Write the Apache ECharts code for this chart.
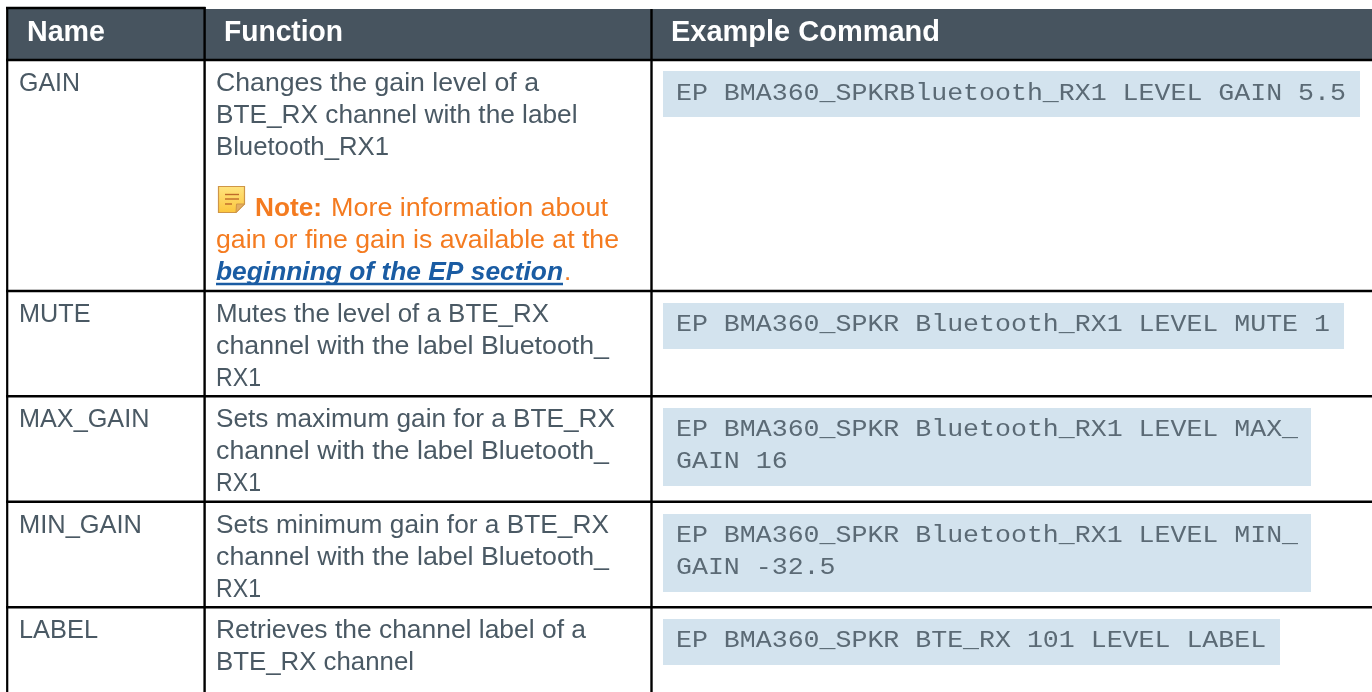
<!DOCTYPE html>
<html lang="en">

<head>
  <meta charset="UTF-8">
  <title>EP LEVEL commands</title>
  <script src="https://cdnjs.cloudflare.com/ajax/libs/echarts/6.0.0/echarts.min.js"></script>
  <style>
    html, body { margin: 0; padding: 0; background: #fff; }
  </style>
</head>

<body>
  <div id="main" style="width: 1372px;height:692px;"></div>
</body>
<script>
  // table content
  const headers = ['Name', 'Function', 'Example Command'];
  const names = ['GAIN', 'MUTE', 'MAX_GAIN', 'MIN_GAIN', 'LABEL'];
  const functions = [
    ['Changes the gain level of a', 'BTE_RX channel with the label', 'Bluetooth_RX1'],
    ['Mutes the level of a BTE_RX', 'channel with the label Bluetooth_', 'RX1'],
    ['Sets maximum gain for a BTE_RX', 'channel with the label Bluetooth_', 'RX1'],
    ['Sets minimum gain for a BTE_RX', 'channel with the label Bluetooth_', 'RX1'],
    ['Retrieves the channel label of a', 'BTE_RX channel']
  ];
  const commands = [
    ['EP BMA360_SPKRBluetooth_RX1 LEVEL GAIN 5.5'],
    ['EP BMA360_SPKR Bluetooth_RX1 LEVEL MUTE 1'],
    ['EP BMA360_SPKR Bluetooth_RX1 LEVEL MAX_', 'GAIN 16'],
    ['EP BMA360_SPKR Bluetooth_RX1 LEVEL MIN_', 'GAIN -32.5'],
    ['EP BMA360_SPKR BTE_RX 101 LEVEL LABEL']
  ];
  const noteLabel = 'Note:';
  const noteLines = ['More information about', 'gain or fine gain is available at the'];
  const noteLink = 'beginning of the EP section';

  // layout
  const colLines = [7.2, 204.6, 651.5];
  const rowLines = [60, 291, 396.3, 501.7, 607.3];
  const firstBaseline = [91, 322, 427, 533, 638];
  const codeBoxes = [[71, 117, 1360], [303, 349, 1344], [408, 486, 1311], [514, 592, 1311], [619, 665, 1280]];
  const headEnds = [105, 343, 940];
  const nameEnds = [80, 90.5, 149.4, 142, 98];
  const funcEnds = [[539, 577.5, 389], [549, 609, 261], [615, 609, 261], [609, 609, 261], [586, 414]];
  const lineGap = 32;

  const HEAD = '#47545f', INK = '#4a5964', CODE = '#5b6a75', ORANGE = '#f47b20', BLUE = '#1a5ca3', BOX = '#d3e3ee';
  const SANS = '"Liberation Sans", Arial, sans-serif';
  const MONO = '"Liberation Mono", monospace';
  const BODY = 26, CODE_SIZE = 24, CODE_ADVANCE = 15.95;

  const ctx = document.createElement('canvas').getContext('2d');

  // text with its baseline at y, squeezed or stretched so it ends at xEnd
  function text(str, x, y, size, color, font, weight, xEnd) {
    const f = (weight || '') + ' ' + size + 'px ' + font;
    ctx.font = f;
    const w = ctx.measureText(str).width;
    return {
      type: 'text', x: x, y: y + Math.round(size * 0.21) + 1, z: 5,
      scaleX: xEnd ? (xEnd - x) / w : 1,
      style: { text: str, fill: color, font: f, verticalAlign: 'bottom', align: 'left' }
    };
  }

  function line(x1, y1, x2, y2, w, color, z) {
    return { type: 'line', z: z || 3, shape: { x1, y1, x2, y2 }, style: { stroke: color || '#000', lineWidth: w } };
  }

  function noteIcon() {
    const els = [];
    els.push({
      type: 'polygon', z: 4,
      shape: { points: [[218.5, 186.5], [244.5, 186.5], [244.5, 204], [236, 212.5], [218.5, 212.5]] },
      style: {
        fill: { type: 'linear', x: 0, y: 0, x2: 0, y2: 1, colorStops: [{ offset: 0, color: '#ffe480' }, { offset: 1, color: '#fcc63c' }] },
        stroke: '#cf9646', lineWidth: 1.2
      }
    });
    els.push({ type: 'polygon', z: 4, shape: { points: [[244.5, 204], [236.5, 204], [236, 212.5]] }, style: { fill: '#e2ad62', stroke: '#cf9646', lineWidth: 1 } });
    [[225, 239, 194.5], [225, 239, 199], [225, 232, 204]].forEach((s) => {
      els.push(line(s[0], s[2], s[1], s[2], 1.4, '#bf6a2a', 5));
    });
    return els;
  }

  function buildGraphic() {
    let els = [];
    // header band
    els.push({ type: 'rect', z: 1, shape: { x: 7, y: 9, width: 1365, height: 51 }, style: { fill: HEAD } });
    // code boxes
    codeBoxes.forEach((b) => {
      els.push({ type: 'rect', z: 2, shape: { x: 663, y: b[0], width: b[2] - 663, height: b[1] - b[0] }, style: { fill: BOX } });
    });
    // rules
    els.push(line(6, 8, 205.5, 8, 2.6));
    els.push(line(colLines[0], 7, colLines[0], 692, 2.2));
    els.push(line(colLines[1], 7, colLines[1], 692, 2.4));
    els.push(line(colLines[2], 9, colLines[2], 692, 2.4));
    rowLines.forEach((y) => els.push(line(6, y, 1372, y, 2.6)));

    // header text
    const headX = [27, 224, 671];
    headers.forEach((h, i) => els.push(text(h, headX[i], 41, 28.6, '#fff', SANS, 'bold', headEnds[i])));

    // rows
    names.forEach((n, i) => {
      const base = firstBaseline[i];
      els.push(text(n, 19, base, BODY, INK, SANS, '', nameEnds[i]));
      functions[i].forEach((l, k) => {
        els.push(text(l, 216, base + k * lineGap, BODY, INK, SANS, '', funcEnds[i][k]));
      });
      commands[i].forEach((l, k) => {
        els.push(text(l, 676, base + 9 + k * lineGap, CODE_SIZE, CODE, MONO, '', 676 + l.length * CODE_ADVANCE));
      });
    });

    els = els.concat(noteIcon());

    // note text
    els.push(text(noteLabel, 255, 216, BODY, ORANGE, SANS, 'bold', 322));
    els.push(text(noteLines[0], 331, 216, BODY, ORANGE, SANS, '', 608));
    els.push(text(noteLines[1], 216, 248, BODY, ORANGE, SANS, '', 619));
    els.push(text(noteLink, 216, 280, BODY, BLUE, SANS, 'italic bold', 563));
    els.push(line(216, 284, 563, 284, 2.4, BLUE));
    els.push(text('.', 564, 280, BODY, ORANGE, SANS));
    return els;
  }

  var myChart = echarts.init(document.getElementById('main'));
  myChart.setOption({ animation: false, backgroundColor: '#fff', graphic: { elements: buildGraphic() } });
</script>

</html>
